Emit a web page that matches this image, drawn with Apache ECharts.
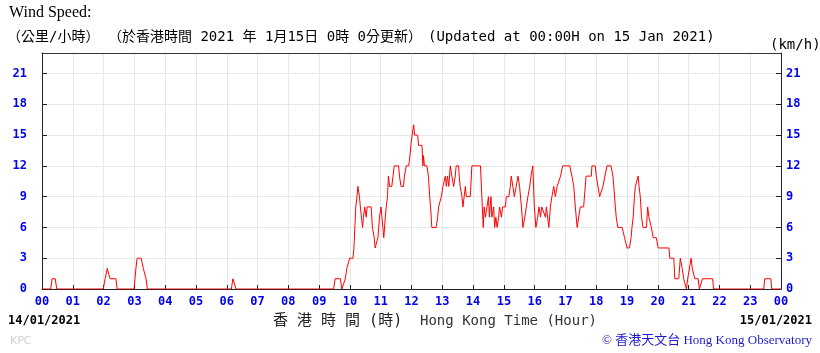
<!DOCTYPE html>
<html style="height: 100%">
<head>
<meta charset="utf-8">
</head>
<body style="height: 100%; margin: 0; background: #fff">
<div id="container" style="width: 820px; height: 353px"></div>
<script src="https://cdn.jsdelivr.net/npm/echarts@6/dist/echarts.min.js"></script>
<script>
// time of each reading, hours after 00:00 on 14/01/2021
var hours = [
  0, 0.28, 0.33, 0.43, 0.48,
  1.99, 2.05, 2.12, 2.15, 2.21, 2.40, 2.44,
  2.99, 3.02, 3.05, 3.09, 3.22, 3.29, 3.38, 3.42,
  6.15, 6.20, 6.26, 6.30,
  9.47, 9.52, 9.69, 9.74, 9.79, 9.85, 9.90, 9.95, 9.99,
  10.10, 10.13, 10.16, 10.19, 10.23, 10.26, 10.28, 10.31, 10.34, 10.41, 10.44, 10.48, 10.51, 10.53, 10.56, 10.69, 10.73, 10.79, 10.82, 10.88, 10.91, 10.96,
  11.01, 11.04, 11.07, 11.10, 11.15, 11.18, 11.22, 11.25, 11.29, 11.36, 11.40, 11.44, 11.58, 11.61, 11.66, 11.74, 11.77, 11.83, 11.91, 11.95, 11.98,
  12.02, 12.07, 12.10, 12.20, 12.23, 12.34, 12.37, 12.39, 12.42, 12.50, 12.55, 12.59, 12.62, 12.66, 12.80, 12.85, 12.88, 12.93, 12.97,
  13.02, 13.06, 13.10, 13.13, 13.17, 13.21, 13.26, 13.31, 13.37, 13.42, 13.45, 13.53, 13.55, 13.58, 13.64, 13.67, 13.71, 13.75, 13.78, 13.91, 13.96,
  14.24, 14.27, 14.30, 14.33, 14.36, 14.40, 14.45, 14.50, 14.53, 14.58, 14.61, 14.67, 14.70, 14.74, 14.78, 14.83, 14.86, 14.92, 14.96,
  15.05, 15.08, 15.16, 15.21, 15.24, 15.29, 15.34, 15.40, 15.46, 15.51, 15.57, 15.62, 15.68, 15.73, 15.78, 15.84, 15.88, 15.94, 15.99,
  16.04, 16.10, 16.14, 16.19, 16.23, 16.29, 16.35, 16.38, 16.42, 16.46, 16.51, 16.56, 16.62, 16.67, 16.73, 16.84, 16.91,
  17.14, 17.21, 17.27, 17.32, 17.38, 17.43, 17.48, 17.59, 17.67, 17.84, 17.86, 17.97,
  18.00, 18.11, 18.17, 18.22, 18.28, 18.35, 18.48, 18.54, 18.57, 18.62, 18.65, 18.70, 18.84, 18.92,
  19.00, 19.08, 19.13, 19.16, 19.20, 19.24, 19.27, 19.33, 19.36, 19.39, 19.43, 19.47, 19.52, 19.63, 19.67, 19.71, 19.76, 19.79, 19.85, 19.95,
  20.01, 20.36, 20.39, 20.52, 20.55, 20.68, 20.73, 20.79, 20.84, 20.90, 20.93, 20.97,
  21.03, 21.08, 21.12, 21.20, 21.31, 21.35, 21.41, 21.45, 21.78, 21.81,
  23.44, 23.47, 23.67, 23.70, 24
];

// wind speed (km/h) at those times
var speeds = [
  0, 0, 1, 1, 0,
  0, 1, 2, 2, 1, 1, 0,
  0, 1, 2, 3, 3, 2, 1, 0,
  0, 1, 1, 0,
  0, 1, 1, 0, 0, 1, 2, 2, 3,
  3, 4, 6, 8, 9, 10, 10, 9, 8, 6, 7, 8, 8, 7, 8, 8, 6, 5, 4, 4, 5, 7,
  8, 7, 6, 5, 7, 8, 9, 11, 10, 10, 11, 12, 12, 11, 10, 10, 11, 12, 12, 13, 14,
  15, 16, 15, 15, 14, 14, 12, 13, 12, 12, 11, 9, 8, 6, 6, 7, 8, 8, 9,
  10, 10, 11, 10, 11, 10, 12, 11, 10, 11, 12, 12, 11, 10, 9, 8, 9, 10, 9, 9, 12,
  12, 10, 8, 6, 8, 7, 8, 9, 7, 9, 7, 8, 6, 7, 6, 7, 8, 7, 8,
  8, 9, 9, 10, 11, 10, 9, 10, 11, 10, 8, 6, 7, 8, 9, 10, 11, 12, 8,
  6, 7, 8, 7, 8, 8, 7, 8, 8, 6, 8, 9, 10, 9, 10, 11, 12,
  12, 11, 10, 8, 6, 6, 8, 8, 11, 11, 12, 12,
  11, 9, 9, 10, 11, 12, 12, 11, 10, 8, 7, 6, 6, 5,
  4, 4, 5, 6, 7, 9, 10, 10, 11, 10, 9, 7, 6, 6, 8, 7, 7, 6, 5, 5,
  4, 4, 3, 3, 1, 1, 3, 2, 1, 1, 0, 1,
  1, 3, 2, 1, 1, 0, 0, 1, 1, 0,
  0, 1, 1, 0, 0
];

var hourLabels = ['00', '01', '02', '03', '04', '05', '06', '07', '08', '09', '10', '11',
  '12', '13', '14', '15', '16', '17', '18', '19', '20', '21', '22', '23', '00'];

var points = hours.map(function (h, i) { return [h, speeds[i]]; });

var blue = '#0000ee';
var mono = '"DejaVu Sans Mono", monospace';
var monoCJK = '"DejaVu Sans Mono", "Noto Sans CJK TC", monospace';

function txt(x, y, text, font, fill, align) {
  return {
    type: 'text', x: x, y: y, silent: true,
    style: {
      text: text, font: font, fill: fill,
      align: align || 'left', textAlign: align || 'left',
      verticalAlign: 'middle', textVerticalAlign: 'middle'
    }
  };
}

var chart = echarts.init(document.getElementById('container'));

var option = {
  animation: false,
  backgroundColor: '#fff',
  grid: { left: 42, right: 39, top: 53, bottom: 64 },
  xAxis: [{
    type: 'value', min: 0, max: 24, interval: 1,
    axisLine: { lineStyle: { color: '#222', width: 1 } },
    axisTick: { inside: true, length: 4, lineStyle: { color: '#222' } },
    axisLabel: {
      margin: 7, color: blue, fontWeight: 'bold', fontSize: 12, fontFamily: mono,
      formatter: function (v) { return hourLabels[v]; }
    },
    splitLine: { show: true, lineStyle: { color: '#e8e8e8', width: 1 } }
  }, {
    type: 'value', min: 0, max: 24, position: 'top',
    axisLine: { show: true, onZero: false, lineStyle: { color: '#333' } },
    axisTick: { show: false }, axisLabel: { show: false }, splitLine: { show: false }
  }],
  yAxis: [{
    type: 'value', min: 0, max: 23, interval: 3, position: 'left',
    axisLine: { show: true, onZero: false, lineStyle: { color: '#222' } },
    axisTick: { show: true, inside: true, length: 5, lineStyle: { color: '#222' } },
    axisLabel: {
      margin: 15, color: blue, fontWeight: 'bold', fontSize: 12, fontFamily: mono,
      showMaxLabel: false
    },
    splitLine: { show: true, lineStyle: { color: '#e8e8e8', width: 1 } }
  }, {
    type: 'value', min: 0, max: 23, interval: 3, position: 'right',
    axisLine: { show: true, onZero: false, lineStyle: { color: '#222' } },
    axisTick: { show: true, inside: true, length: 5, lineStyle: { color: '#222' } },
    axisLabel: {
      margin: 5, color: blue, fontWeight: 'bold', fontSize: 12, fontFamily: mono,
      showMaxLabel: false
    },
    splitLine: { show: false }
  }],
  graphic: [
    txt(9, 13, 'Wind Speed:', '16px "Liberation Serif", serif', '#000'),
    txt(7, 37, '（公里/小時）', '14px ' + monoCJK, '#000'),
    txt(108, 37, '（於香港時間 2021 年 1月15日 0時 0分更新）', '14px ' + monoCJK, '#000'),
    txt(428, 37, '(Updated at 00:00H on 15 Jan 2021)', '14px ' + mono, '#000'),
    txt(770, 45, '(km/h)', '14px ' + mono, '#000'),
    txt(8, 321, '14/01/2021', 'bold 12px ' + mono, '#000'),
    txt(812, 321, '15/01/2021', 'bold 12px ' + mono, '#000', 'right'),
    txt(273, 321, '香 港 時 間 (時)', '15px ' + monoCJK, '#222'),
    txt(420, 321, 'Hong Kong Time (Hour)', '14px ' + mono, '#333'),
    txt(10, 341, 'KPC', '11px "DejaVu Sans", sans-serif', '#d0d0d0'),
    txt(812, 341, '© 香港天文台 Hong Kong Observatory', '13px "Liberation Serif", "Noto Sans CJK TC", serif', '#1a1acc', 'right')
  ],
  series: [{
    type: 'line',
    data: points,
    showSymbol: false,
    xAxisIndex: 0,
    yAxisIndex: 0,
    lineStyle: { color: '#ff0000', width: 1 },
    z: 3
  }]
};

chart.setOption(option);
</script>
</body>
</html>
